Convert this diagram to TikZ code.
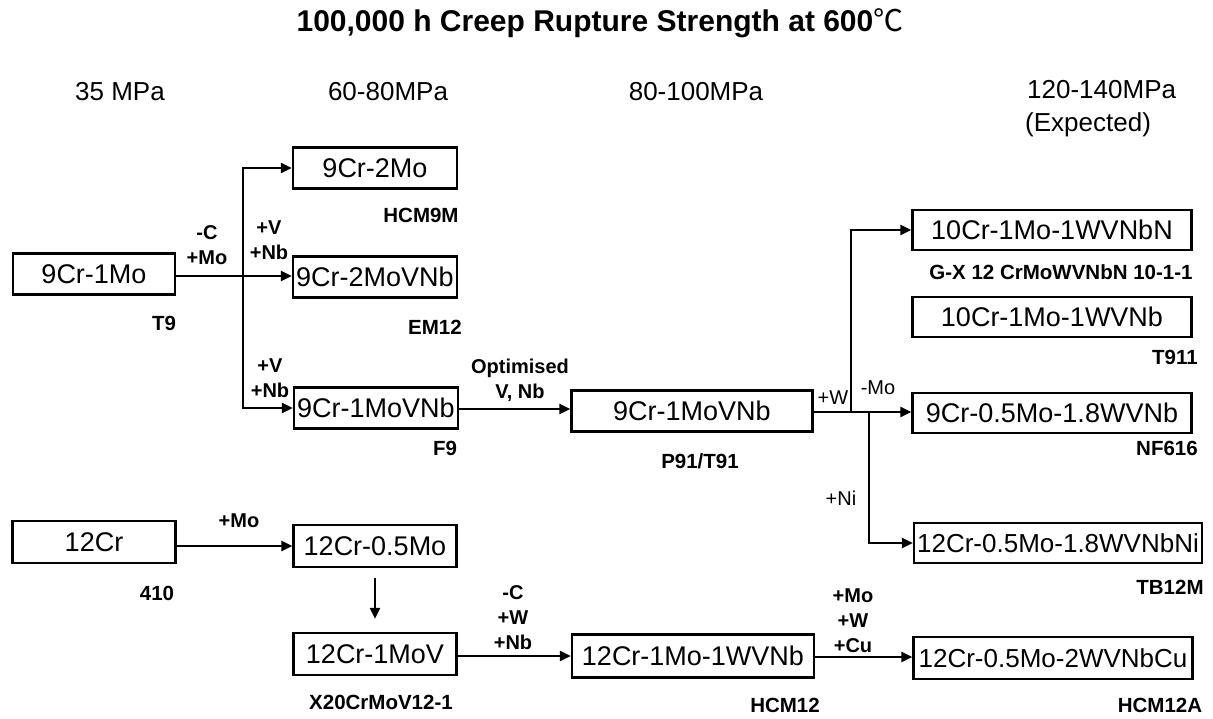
\documentclass[tikz,border=0pt]{standalone}
\usepackage{fontspec}
\setmainfont{Liberation Sans}
\newfontfamily\cjk{Noto Sans CJK SC}
\usetikzlibrary{arrows.meta}
\begin{document}
\begin{tikzpicture}[x=1pt,y=-1pt,
 box/.style={draw,line width=2.2pt,inner sep=0pt,font=\fontsize{27}{32}\selectfont,minimum height=41pt},
 sub/.style={font=\bfseries\fontsize{20.5}{24}\selectfont,inner sep=0pt},
 elab/.style={font=\bfseries\fontsize{20}{25}\selectfont,inner sep=0pt,align=center},
 rlab/.style={font=\fontsize{20}{25}\selectfont,inner sep=0pt},
 head/.style={font=\fontsize{26}{35}\selectfont,inner sep=0pt},
 arr/.style={line width=2.2pt,-{Triangle[length=11pt,width=10pt]}},
 ln/.style={line width=2.2pt}]
\useasboundingbox (0,0) rectangle (1213,718);
% title and headers
\node[font=\bfseries\fontsize{30}{34}\selectfont,inner sep=0pt] (title) at (600,23) {100,000 h Creep Rupture Strength at 600{\cjk\mdseries ℃}};
\node[head] (h1) at (120,92) {35 MPa};
\node[head] (h2) at (388,92) {60-80MPa};
\node[head] (h3) at (696,92) {80-100MPa};
\node[head,anchor=west] (h4) at (1027,90) {120-140MPa};
\node[head,anchor=west] (h5) at (1025,125) {(Expected)};
% boxes
\node[box,minimum width=162pt] (n1) at (94,274) {9Cr-1Mo};
\node[box,minimum width=164pt] (n2) at (375,168) {9Cr-2Mo};
\node[box,minimum width=164pt] (n3) at (375,277) {9Cr-2MoVNb};
\node[box,minimum width=164pt] (n4) at (376,408) {9Cr-1MoVNb};
\node[box,minimum width=241pt] (n5) at (692,411) {9Cr-1MoVNb};
\node[box,minimum width=279pt,minimum height=40pt] (n6) at (1052,230) {10Cr-1Mo-1WVNbN};
\node[box,minimum width=279pt,minimum height=40pt] (n7) at (1052,317) {10Cr-1Mo-1WVNb};
\node[box,minimum width=279pt,minimum height=40pt] (n8) at (1052,413) {9Cr-0.5Mo-1.8WVNb};
\node[box,minimum width=288pt,minimum height=40pt,font=\fontsize{26}{32}\selectfont] (n9) at (1058,543) {12Cr-0.5Mo-1.8WVNbNi};
\node[box,minimum width=163pt,minimum height=42pt] (n10) at (94,542) {12Cr};
\node[box,minimum width=163pt,minimum height=42pt] (n11) at (375,546) {12Cr-0.5Mo};
\node[box,minimum width=163pt,minimum height=42pt] (n12) at (375,654) {12Cr-1MoV};
\node[box,minimum width=242pt,minimum height=43pt] (n13) at (693,656) {12Cr-1Mo-1WVNb};
\node[box,minimum width=279pt,minimum height=42pt,font=\fontsize{26}{32}\selectfont] (n14) at (1053,658) {12Cr-0.5Mo-2WVNbCu};
% sub labels
\node[sub] (s1) at (164,323) {T9};
\node[sub] (s2) at (421,215) {HCM9M};
\node[sub] (s3) at (435,327) {EM12};
\node[sub] (s4) at (445,448) {F9};
\node[sub] (s5) at (700,461) {P91/T91};
\node[sub] (s6) at (1061,272) {G-X 12 CrMoWVNbN 10-1-1};
\node[sub] (s7) at (1175,357) {T911};
\node[sub] (s8) at (1167,448) {NF616};
\node[sub] (s9) at (1170,587) {TB12M};
\node[sub] (s10) at (157,593) {410};
\node[sub] (s11) at (381,702) {X20CrMoV12-1};
\node[sub] (s12) at (785,705) {HCM12};
\node[sub] (s13) at (1160,705) {HCM12A};
% connector labels
\node[elab] (l1) at (207,245) {-C\\+Mo};
\node[elab] (l2) at (269,240) {+V\\+Nb};
\node[elab] (l3) at (270,378) {+V\\+Nb};
\node[elab] (l4) at (520,380) {Optimised\\V, Nb};
\node[rlab] (l5) at (833,398) {+W};
\node[rlab] (l6) at (878,388) {-Mo};
\node[rlab] (l7) at (841,498) {+Ni};
\node[elab] (l8) at (239,521) {+Mo};
\node[elab] (l9) at (513,618) {-C\\+W\\+Nb};
\node[elab] (l10) at (853,621) {+Mo\\+W\\+Cu};
% junctions
\coordinate (b1) at (243,276);
\coordinate (b2) at (851,412);
\coordinate (b3) at (869,412);
% connectors
\draw[arr] (n1.east |- b1) -- (n3.west |- b1);
\draw[arr] (b1) |- (n2.west);
\draw[arr] (b1) |- (n4.west);
\draw[arr] (n4.east |- 0,409) -- (n5.west |- 0,409);
\draw[arr] (n5.east |- b2) -- (n8.west |- b2);
\draw[arr] (b2) |- (n6.west);
\draw[arr] (b3) |- (n9.west);
\draw[arr] (n10.east |- n11.west) -- (n11.west);
\draw[arr,shorten <=10pt,shorten >=13pt] (n11.south) -- (n12.north);
\draw[arr] (n12.east |- n13.west) -- (n13.west);
\draw[arr] (n13.east |- 0,657) -- (n14.west |- 0,657);
\end{tikzpicture}
\end{document}
